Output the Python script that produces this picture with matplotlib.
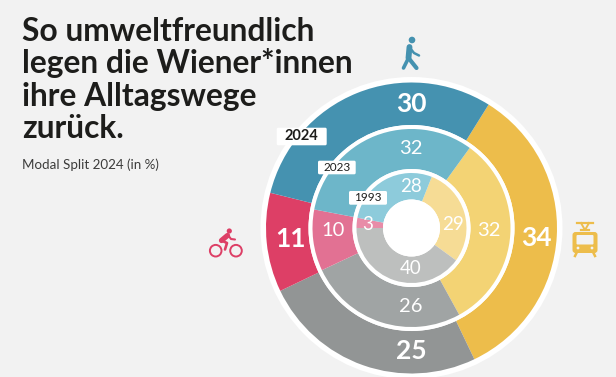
import matplotlib
matplotlib.use('Agg')
import matplotlib.pyplot as plt
from matplotlib.patches import Circle, FancyBboxPatch

W, H = 616, 377
BG = '#F2F2F2'
DARK = '#1D1D1B'

# Modal split in %, order: tram, car, bike, walk
modes = ['Öffis', 'Auto', 'Rad', 'zu Fuß']
share_2024 = [34, 25, 11, 30]
share_2023 = [32, 26, 10, 32]
share_1993 = [29, 40, 3, 28]
years = ['2024', '2023', '1993']

colors_2024 = ['#EDBD4B', '#929595', '#DD3F66', '#4592B0']
colors_2023 = ['#F3D374', '#A0A4A4', '#E27193', '#6DB6C9']
colors_1993 = ['#F6DC95', '#BDBFBE', '#E88CA8', '#8DCBDB']

title_lines = ['So umweltfreundlich', 'legen die Wiener*innen', 'ihre Alltagswege', 'zurück.']
subtitle = 'Modal Split 2024 (in %)'

plt.rcParams['font.family'] = ['Lato', 'DejaVu Sans']

fig = plt.figure(figsize=(W / 100, H / 100), dpi=100, facecolor=BG)
ax = fig.add_axes([0, 0, 1, 1])


def fy(y):
    # picture pixels run downwards
    return H - y


cx, cy = 411.5, fy(228)

# white rings behind the wedges
ax.add_patch(Circle((cx, cy), 151, fc='white', ec='none', zorder=1))

rings = [
    (share_2024, colors_2024, 145.5, 103, 58),
    (share_2023, colors_2023, 99, 59, 54),
    (share_1993, colors_1993, 55, 28.5, 68.4),
]
for i, (vals, cols, r_out, r_in, start) in enumerate(rings):
    if i > 0:
        ax.add_patch(Circle((cx, cy), r_out + 4, fc='white', ec='none', zorder=2 + 2 * i))
    wedges, _ = ax.pie(vals, colors=cols, radius=r_out, center=(cx, cy), startangle=start,
                       counterclock=False, frame=True,
                       wedgeprops=dict(width=r_out - r_in, linewidth=0))
    for w in wedges:
        w.set_zorder(3 + 2 * i)
ax.add_patch(Circle((cx, cy), 28.5, fc='white', ec='none', zorder=9))

# value labels
pos_2024 = [(536.5, 238), (411, 351), (290.5, 239), (411, 104)]
pos_2023 = [(489, 230), (411, 306), (333, 231), (411, 149)]
pos_1993 = [(453, 224), (411, 269), (368, 224), (411, 187)]
for vals, pos, size, weight in [(share_2024, pos_2024, 19, 'bold'),
                                (share_2023, pos_2023, 14.5, 'normal'),
                                (share_1993, pos_1993, 13.5, 'normal')]:
    for v, (x, y) in zip(vals, pos):
        ax.text(x, fy(y), str(v), color='white', fontsize=size, weight=weight,
                ha='center', va='center', zorder=10)

# year tags
tags = [(276.7, 127.7, 50, 17.6, 10.5), (318, 160.7, 37.7, 13.6, 8.5), (349, 191, 38, 13.7, 8.5)]
for year, (x, y, bw, bh, size) in zip(years, tags):
    ax.add_patch(FancyBboxPatch((x + 1, fy(y + bh) + 1), bw - 2, bh - 2, boxstyle='round,pad=1,rounding_size=1.5',
                                fc='white', ec='none', zorder=11))
    ax.text(x + bw / 2, fy(y + bh / 2), year, color=DARK, fontsize=size, ha='center', va='center',
            weight='bold' if year == '2024' else 'normal', zorder=12)

# title block
for line, y in zip(title_lines, [40.7, 73.5, 106, 138.5]):
    ax.text(22, fy(y), line, color=DARK, fontsize=22.9, weight='bold', ha='left', va='baseline')
ax.text(22, fy(169), subtitle, color='#3C3C3B', fontsize=9.6, ha='left', va='baseline')

# walker icon
c = colors_2024[3]
ax.add_patch(Circle((412, fy(40)), 3.3, fc=c, ec='none'))
ax.plot([409.5, 408.5], [fy(47), fy(58)], color=c, lw=4.2, solid_capstyle='round')
ax.plot([408.5, 403.5], [fy(58), fy(68)], color=c, lw=2.6, solid_capstyle='round')
ax.plot([408.5, 416.5], [fy(58), fy(68)], color=c, lw=3, solid_capstyle='round')
ax.plot([410, 414, 419], [fy(48), fy(53), fy(55.5)], color=c, lw=1.8, solid_capstyle='round')

# bike icon
c = colors_2024[2]
for x in (215.7, 236):
    ax.add_patch(Circle((x, fy(250.7)), 5.8, fc='none', ec=c, lw=1.4))
ax.add_patch(Circle((229.3, fy(231)), 2.6, fc=c, ec='none'))
ax.plot([221.5, 227.5], [fy(240.5), fy(235.5)], color=c, lw=3.8, solid_capstyle='round')
ax.plot([228, 231, 235], [fy(235), fy(239), fy(239.5)], color=c, lw=1.5, solid_capstyle='round')
ax.plot([221.5, 227, 225], [fy(240.5), fy(243), fy(249.5)], color=c, lw=1.9, solid_capstyle='round')

# tram icon
c = colors_2024[0]
ax.add_patch(FancyBboxPatch((574.5, fy(251)), 21, 17, boxstyle='round,pad=2,rounding_size=3', fc=c, ec='none'))
ax.add_patch(FancyBboxPatch((577, fy(244)), 16, 8.5, boxstyle='round,pad=0.5,rounding_size=1', fc=BG, ec='none'))
for x in (578, 592):
    ax.add_patch(Circle((x, fy(248)), 1.4, fc=BG, ec='none'))
ax.plot([577, 575], [fy(252), fy(256)], color=c, lw=1.8)
ax.plot([593, 595], [fy(252), fy(256)], color=c, lw=1.8)
ax.plot([577, 593], [fy(222.5), fy(222.5)], color=c, lw=1.6)
ax.plot([581, 585, 589], [fy(223), fy(230), fy(223)], color=c, lw=1.4)
ax.plot([581, 589], [fy(229.5), fy(229.5)], color=c, lw=1.6)

ax.set_xlim(0, W)
ax.set_ylim(0, H)
ax.set_aspect('auto')
ax.set_axis_off()
fig.savefig('out.png', dpi=100, facecolor=BG)
